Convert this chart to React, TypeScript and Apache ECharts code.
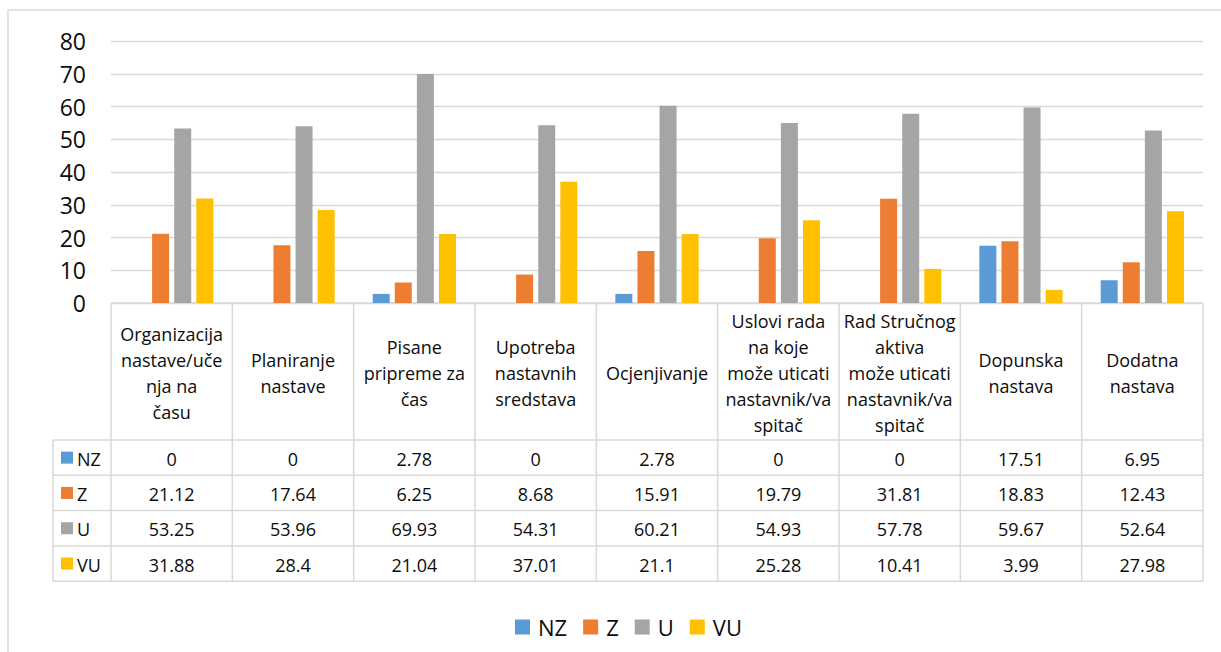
import React, { useEffect, useRef } from "react";
import * as echarts from "echarts";

const categories = [
  "Organizacija\nnastave/uče\nnja na\nčasu",
  "Planiranje\nnastave",
  "Pisane\npripreme za\nčas",
  "Upotreba\nnastavnih\nsredstava",
  "Ocjenjivanje",
  "Uslovi rada\nna koje\nmože uticati\nnastavnik/va\nspitač",
  "Rad Stručnog\naktiva\nmože uticati\nnastavnik/va\nspitač",
  "Dopunska\nnastava",
  "Dodatna\nnastava",
];
const seriesNames = ["NZ", "Z", "U", "VU"];
const nzValues = [0, 0, 2.78, 0, 2.78, 0, 0, 17.51, 6.95];
const zValues = [21.12, 17.64, 6.25, 8.68, 15.91, 19.79, 31.81, 18.83, 12.43];
const uValues = [53.25, 53.96, 69.93, 54.31, 60.21, 54.93, 57.78, 59.67, 52.64];
const vuValues = [31.88, 28.4, 21.04, 37.01, 21.1, 25.28, 10.41, 3.99, 27.98];
const seriesValues = [nzValues, zValues, uValues, vuValues];
const colors = ["#5B9BD5", "#ED7D31", "#A5A5A5", "#FFC000"];
const yMin = 0;
const yMax = 80;
const yInterval = 10;

const FONT = "'Open Sans', 'Noto Sans', sans-serif";
const LINE = "#d9d9d9";
const TEXT = "#0d0d0d";

export default function App() {
  const ref = useRef<HTMLDivElement>(null);
  useEffect(() => {
    if (!ref.current) return;
    const chart = echarts.init(ref.current, null, { renderer: "svg" });
    const gridLeft = 111;
    const gridRight = 18;
    const gridTop = 41;
    const gridBottom = 349;
    chart.setOption({
      animation: false,
      backgroundColor: "#fff",
      grid: { left: gridLeft, right: gridRight, top: gridTop, bottom: gridBottom, containLabel: false },
      legend: {
        left: 510,
        top: 611,
        itemWidth: 15,
        itemHeight: 15,
        itemGap: 16,
        icon: "rect",
        data: seriesNames,
        textStyle: { fontFamily: FONT, fontSize: 22, color: TEXT, padding: [0, 0, 0, 3] },
      },
      xAxis: {
        type: "category",
        data: categories,
        axisLine: { show: false },
        axisTick: { show: false },
        axisLabel: { show: false },
      },
      yAxis: {
        type: "value",
        min: yMin,
        max: yMax,
        interval: yInterval,
        axisLine: { show: false },
        axisTick: { show: false },
        axisLabel: { fontFamily: FONT, fontSize: 23, color: TEXT, margin: 25 },
        splitLine: { lineStyle: { color: LINE, width: 1.3 } },
      },
      series: seriesNames.map((name, i) => ({
        name,
        type: "bar",
        data: seriesValues[i],
        barWidth: 17,
        barGap: "30%",
        itemStyle: { color: colors[i] },
      })),
    });

    // table drawn from data arrays
    const width = chart.getWidth();
    const plotRight = width - gridRight;
    const band = (plotRight - gridLeft) / categories.length;
    const headerTop = chart.getHeight() - gridBottom;
    const headerBottom = 440;
    const rowH = 35.3;
    const tableLeft = 53;
    const tableBottom = headerBottom + rowH * seriesNames.length;
    const elements: any[] = [];
    elements.push({
      type: "rect",
      shape: { x: 8, y: 10, width: width + 20, height: 700 },
      style: { fill: "none", stroke: LINE, lineWidth: 1.5 },
      silent: true,
    });
    const hline = (x1: number, x2: number, y: number) =>
      elements.push({ type: "line", shape: { x1, y1: y, x2, y2: y }, style: { stroke: LINE, lineWidth: 1.5 }, silent: true });
    const vline = (x: number, y1: number, y2: number) =>
      elements.push({ type: "line", shape: { x1: x, y1, x2: x, y2 }, style: { stroke: LINE, lineWidth: 1.5 }, silent: true });
    hline(gridLeft, plotRight, headerTop);
    for (let r = 0; r <= seriesNames.length; r++) hline(tableLeft, plotRight, headerBottom + r * rowH);
    vline(tableLeft, headerBottom, tableBottom);
    for (let c = 0; c <= categories.length; c++) vline(gridLeft + c * band, headerTop, tableBottom);
    categories.forEach((cat, c) => {
      const cx = chart.convertToPixel({ xAxisIndex: 0 }, c) as number;
      elements.push({
        type: "text",
        x: cx,
        y: (headerTop + headerBottom) / 2 + 1,
        style: {
          text: cat,
          align: "center",
          verticalAlign: "middle",
          fontFamily: FONT,
          fontSize: 18,
          lineHeight: 26,
          fill: TEXT,
        },
        silent: true,
      });
      seriesValues.forEach((vals, r) => {
        elements.push({
          type: "text",
          x: cx,
          y: headerBottom + rowH * (r + 0.5) + 1,
          style: {
            text: String(vals[c]),
            align: "center",
            verticalAlign: "middle",
            fontFamily: FONT,
            fontSize: 18,
            fill: TEXT,
          },
          silent: true,
        });
      });
    });
    seriesNames.forEach((name, r) => {
      const cy = headerBottom + rowH * (r + 0.5);
      elements.push({
        type: "rect",
        shape: { x: 61, y: cy - 6, width: 12, height: 12 },
        style: { fill: colors[r] },
        silent: true,
      });
      elements.push({
        type: "text",
        x: 77,
        y: cy + 1,
        style: { text: name, align: "left", verticalAlign: "middle", fontFamily: FONT, fontSize: 18, fill: TEXT },
        silent: true,
      });
    });
    chart.setOption({ graphic: { elements } });
    return () => chart.dispose();
  }, []);
  return (
    <div
      ref={ref}
      style={{ position: "fixed", left: 0, top: 0, width: 1221, height: 652, background: "#fff" }}
    />
  );
}
